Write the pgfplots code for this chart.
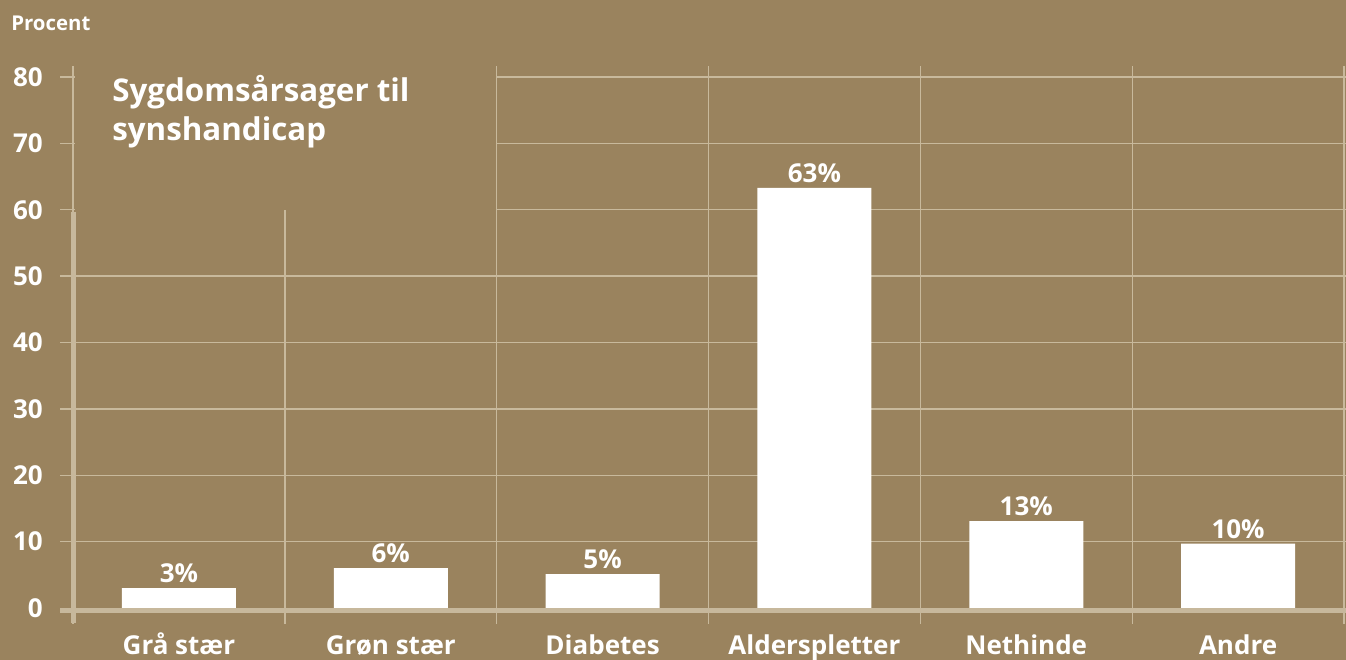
\documentclass[border=0pt]{standalone}
\usepackage{pgfplots}
\pgfplotsset{compat=1.18}
\usepackage{fontspec}
\setmainfont{Open Sans}
\definecolor{bg}{RGB}{154,131,94}
\definecolor{gridc}{RGB}{200,185,156}
\definecolor{axc}{RGB}{199,184,156}
\begin{document}
\begin{tikzpicture}
\useasboundingbox (-54.75pt,-39pt) rectangle (954.75pt,456pt);
\fill[bg] (-54.75pt,-39pt) rectangle (954.75pt,456pt);
% horizontal grid lines
\foreach \v in {1,...,8}{
  \draw[gridc, line width=1pt] (-9.75pt,{\v*398.25pt/8}) -- (954.75pt,{\v*398.25pt/8});
}
% vertical grid lines
\foreach \k in {0,...,6}{
  \draw[gridc, line width=1pt] ({\k*953.25pt/6},-12pt) -- ({\k*953.25pt/6},406.5pt);
}
% title box cover
\fill[bg] (1.5pt,298.5pt) rectangle (317.25pt,409.5pt);
\begin{axis}[
  at={(0pt,0pt)}, anchor=south west,
  scale only axis, width=953.25pt, height=398.25pt,
  xmin=-0.5, xmax=5.5, ymin=0, ymax=80,
  axis line style={draw=none}, major tick style={draw=none},
  ytick={0,10,...,80},
  xtick={0,...,5},
  xticklabels={Grå stær,Grøn stær,Diabetes,Alderspletter,Nethinde,Andre},
  every tick label/.append style={font=\fontsize{19.5pt}{23pt}\selectfont\bfseries, text=white},
  /pgf/number format/assume math mode=true,
  yticklabel style={anchor=east, inner sep=0pt, xshift=-22.5pt},
  xticklabel style={anchor=base, inner sep=0pt, yshift=-35.25pt},
  clip=false,
]
\addplot[ybar, bar width=85.5pt, fill=white, draw=none,
  point meta=explicit symbolic,
  nodes near coords,
  every node near coord/.append style={anchor=base, inner sep=0pt, yshift=4pt, font=\fontsize{19.5pt}{23pt}\selectfont\bfseries, text=white}]
  coordinates {(0,3.0) [3\%] (1,6.0) [6\%] (2,5.1) [5\%] (3,63.3) [63\%] (4,13.1) [13\%] (5,9.7) [10\%]};
\end{axis}
% axis lines
\fill[axc] (-9.75pt,0pt) rectangle (954.75pt,-3.98pt);
\fill[axc] (-1.5pt,297pt) rectangle (2.25pt,-11.25pt);
% texts
\node[anchor=base west, inner sep=0pt, text=white, font=\fontsize{15.3pt}{19pt}\selectfont\bfseries] at (-46.5pt,432.75pt) {Procent};
\node[anchor=base west, inner sep=0pt, text=white, font=\fontsize{23.5pt}{30pt}\selectfont\bfseries] at (29.25pt,379.5pt) {Sygdomsårsager til};
\node[anchor=base west, inner sep=0pt, text=white, font=\fontsize{23.5pt}{30pt}\selectfont\bfseries] at (29.25pt,350.25pt) {synshandicap};
\end{tikzpicture}
\end{document}
